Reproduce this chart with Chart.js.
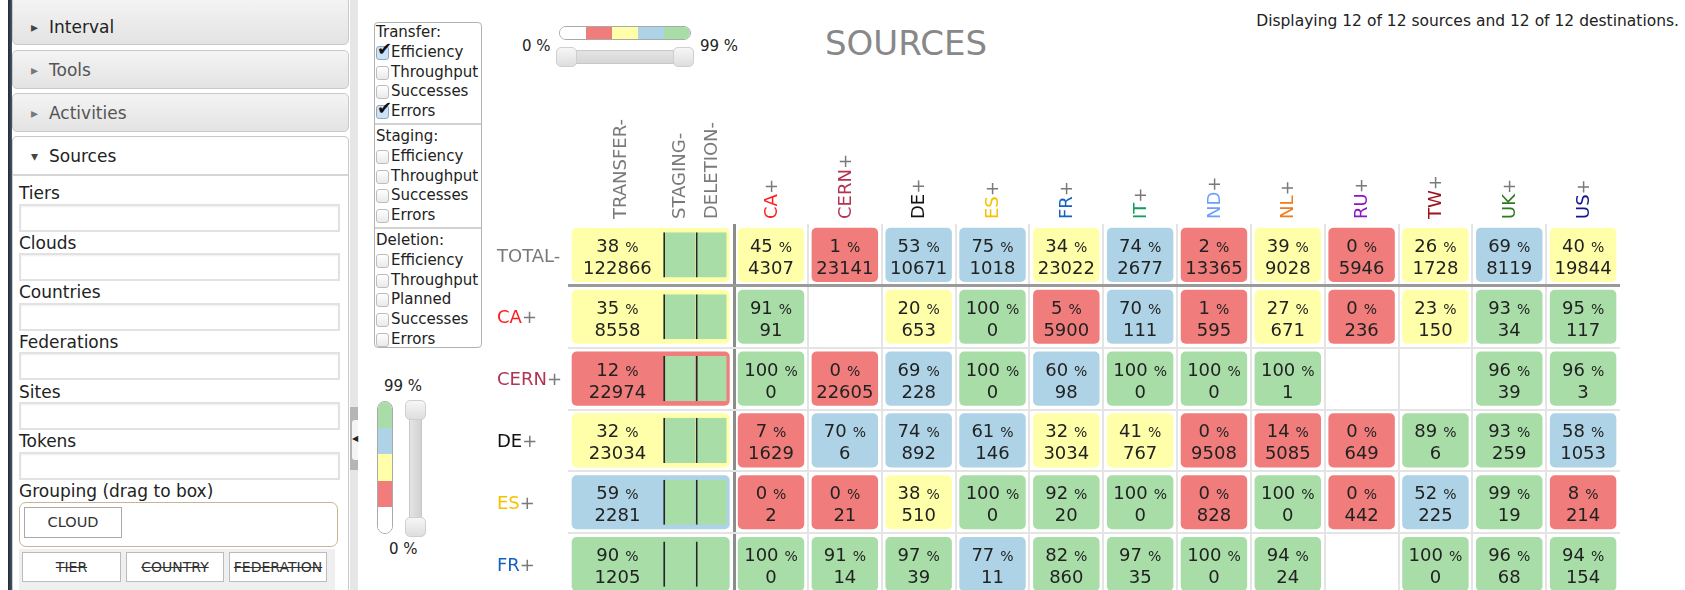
<!DOCTYPE html>
<html>
<head>
<meta charset="utf-8">
<title>Sources</title>
<script src="https://cdn.jsdelivr.net/npm/chart.js@4.4.1/dist/chart.umd.min.js"></script>
<style>
html, body { margin: 0; padding: 0; background: #fff; overflow: hidden; }
body { width: 1685px; height: 590px; position: relative; font-family: "DejaVu Sans", sans-serif; color: #222; }
div, span { box-sizing: border-box; }
.a { position: absolute; }
.edge { left: 8px; top: 0; width: 4px; height: 590px; background: linear-gradient(90deg, #1d2838, #4b5462); }
.head { position: absolute; left: 12px; width: 337px; border: 1px solid #c9c9c9; border-radius: 5px;
        background: linear-gradient(#f4f4f4, #e3e3e3); font-size: 17px; color: #555; }
.head .tri { position: absolute; left: 18px; font-size: 14px; line-height: 22px; color: #777; }
.head .t { position: absolute; left: 36px; line-height: 22px; white-space: nowrap; }
.panel { left: 12px; top: 136px; width: 337px; height: 480px; border: 1px solid #c9c9c9; border-radius: 5px 5px 0 0; background: #fff; }
.lab { position: absolute; left: 19px; font-size: 17px; line-height: 22px; color: #222; white-space: nowrap; }
.inp { position: absolute; left: 19px; width: 321px; height: 28px; border: 2px solid #e2e2e2; background: #fff; box-shadow: inset 0 1px 2px #eee; }
.btn { position: absolute; height: 30px; border: 1px solid #bbb; background: #fff; font-size: 14px; line-height: 28px; text-align: center; color: #333; white-space: nowrap; }
.strike { text-decoration: line-through; }
.cb { position: absolute; font-size: 15px; line-height: 20px; white-space: nowrap; color: #222; }
.box { position: absolute; left: 376px; width: 13px; height: 14px; border: 1px solid #bdbdbd; border-radius: 3px; background: linear-gradient(#fff, #e9e9e9); }
.box.on { background: #cfe2f5; border-color: #8aa9c9; }
.tick { position: absolute; left: 377px; font-size: 18px; line-height: 20px; color: #111; }
.sep { position: absolute; left: 375px; width: 106px; height: 2px; background: #d2d2d2; }
.seg { flex: 1; }
.pct { position: absolute; font-size: 15px; line-height: 20px; color: #222; white-space: nowrap; }
.handle { position: absolute; border: 1px solid #cfcfcf; border-radius: 5px; background: linear-gradient(#f6f6f6, #dedede); }
</style>
</head>
<body>
<div class="a edge"></div>

<div class="head" style="top:-3px;height:48px;color:#222"><span class="tri" style="top:18px;color:#444">&#9656;</span><span class="t" style="top:18px">Interval</span></div>
<div class="head" style="top:50px;height:39px"><span class="tri" style="top:8px">&#9656;</span><span class="t" style="top:8px">Tools</span></div>
<div class="head" style="top:93px;height:39px"><span class="tri" style="top:8px">&#9656;</span><span class="t" style="top:8px">Activities</span></div>

<div class="a panel"></div>
<div class="head" style="top:136px;height:40px;background:#fff;color:#222;border-radius:5px 5px 0 0"><span class="tri" style="top:8px;color:#444">&#9662;</span><span class="t" style="top:8px">Sources</span></div>
<div class="a" style="left:13px;top:174px;width:335px;height:2px;background:#d6d6d6"></div>

<div class="lab" style="top:182px">Tiers</div>
<div class="inp" style="top:204px"></div>
<div class="lab" style="top:232px">Clouds</div>
<div class="inp" style="top:253px"></div>
<div class="lab" style="top:281px">Countries</div>
<div class="inp" style="top:303px"></div>
<div class="lab" style="top:331px">Federations</div>
<div class="inp" style="top:352px"></div>
<div class="lab" style="top:381px">Sites</div>
<div class="inp" style="top:402px"></div>
<div class="lab" style="top:430px">Tokens</div>
<div class="inp" style="top:452px"></div>
<div class="lab" style="top:480px">Grouping (drag to box)</div>
<div class="a" style="left:19px;top:502px;width:319px;height:45px;border:1.5px solid #c7b693;border-radius:7px"></div>
<div class="btn" style="left:24px;top:507px;width:98px;height:31px;border-color:#aaa;font-size:14.5px">CLOUD</div>
<div class="a" style="left:19px;top:549px;width:316px;height:45px;background:#efefef"></div>
<div class="btn strike" style="left:22px;top:552px;width:99px">TIER</div>
<div class="btn strike" style="left:126px;top:552px;width:98px">COUNTRY</div>
<div class="btn strike" style="left:229px;top:552px;width:98px">FEDERATION</div>

<div class="a" style="left:350px;top:0;width:8px;height:590px;background:#e6e6e6"></div>
<div class="a" style="left:350px;top:407px;width:8px;height:63px;background:#b5b5b5"></div>
<div class="a" style="left:352px;top:420px;width:6px;height:40px;background:#f4f4f4;border-radius:3px 0 0 3px"></div>
<div class="a" style="left:352px;top:432px;font-size:8px;line-height:14px;color:#222">&#9664;</div>

<div class="a" style="left:374px;top:22px;width:108px;height:326px;border:1px solid #b3b3b3;border-radius:4px"></div>
<div id="checks"></div>

<div class="a" style="left:559px;top:26px;width:132px;height:14px;border:1px solid #aaa;border-radius:7px;overflow:hidden;display:flex">
  <div class="seg" style="background:#fff"></div><div class="seg" style="background:#f07c7c"></div><div class="seg" style="background:#ffffaa"></div><div class="seg" style="background:#aed3e6"></div><div class="seg" style="background:#a8dda8"></div>
</div>
<div class="a" style="left:562px;top:50px;width:128px;height:14px;border:1px solid #c8c8c8;border-radius:4px;background:linear-gradient(#e4e4e4,#d6d6d6)"></div>
<div class="handle" style="left:556px;top:47px;width:21px;height:20px"></div>
<div class="handle" style="left:673px;top:47px;width:21px;height:20px"></div>
<div class="pct" style="left:522px;top:36px">0 %</div>
<div class="pct" style="left:700px;top:36px">99 %</div>

<div class="a" style="left:377px;top:401px;width:16px;height:133px;border:1px solid #aaa;border-radius:8px;overflow:hidden;display:flex;flex-direction:column">
  <div class="seg" style="background:#a8dda8"></div><div class="seg" style="background:#aed3e6"></div><div class="seg" style="background:#ffffaa"></div><div class="seg" style="background:#f07c7c"></div><div class="seg" style="background:#fff"></div>
</div>
<div class="a" style="left:409px;top:405px;width:13px;height:128px;border:1px solid #c8c8c8;border-radius:4px;background:linear-gradient(90deg,#e4e4e4,#d2d2d2)"></div>
<div class="handle" style="left:405px;top:400px;width:21px;height:20px"></div>
<div class="handle" style="left:405px;top:517px;width:21px;height:20px"></div>
<div class="pct" style="left:384px;top:376px">99 %</div>
<div class="pct" style="left:389px;top:539px">0 %</div>

<div class="a" style="left:825px;top:23px;font-size:34px;line-height:40px;color:#888">SOURCES</div>
<div class="a" style="right:6px;top:11px;font-size:15.5px;line-height:20px;color:#222;white-space:nowrap">Displaying 12 of 12 sources and 12 of 12 destinations.</div>

<canvas id="matrix" width="1195" height="510" style="position:absolute;left:490px;top:90px"></canvas>

<script>
// destinations (columns) and sources (rows)
const destinations = ["CA", "CERN", "DE", "ES", "FR", "IT", "ND", "NL", "RU", "TW", "UK", "US"];
const sources = ["TOTAL", "CA", "CERN", "DE", "ES", "FR"];
const summaryLabels = ["TRANSFER-", "STAGING-", "DELETION-"];

// transfer efficiency (%) and errors per source, all destinations
const transferEfficiency = [38, 35, 12, 32, 59, 90];
const transferErrors = [122866, 8558, 22974, 23034, 2281, 1205];

// efficiency (%) per source row / destination column, null = no transfers
const efficiency = [
  [45, 1, 53, 75, 34, 74, 2, 39, 0, 26, 69, 40],
  [91, null, 20, 100, 5, 70, 1, 27, 0, 23, 93, 95],
  [100, 0, 69, 100, 60, 100, 100, 100, null, null, 96, 96],
  [7, 70, 74, 61, 32, 41, 0, 14, 0, 89, 93, 58],
  [0, 0, 38, 100, 92, 100, 0, 100, 0, 52, 99, 8],
  [100, 91, 97, 77, 82, 97, 100, 94, null, 100, 96, 94]
];
const errors = [
  [4307, 23141, 10671, 1018, 23022, 2677, 13365, 9028, 5946, 1728, 8119, 19844],
  [91, null, 653, 0, 5900, 111, 595, 671, 236, 150, 34, 117],
  [0, 22605, 228, 0, 98, 0, 0, 1, null, null, 39, 3],
  [1629, 6, 892, 146, 3034, 767, 9508, 5085, 649, 6, 259, 1053],
  [2, 21, 510, 0, 20, 0, 828, 0, 442, 225, 19, 214],
  [0, 14, 39, 11, 860, 35, 0, 24, null, 0, 68, 154]
];

// checkbox panel
const checkGroups = [
  ["Transfer:", ["Efficiency", "Throughput", "Successes", "Errors"], [true, false, false, true]],
  ["Staging:", ["Efficiency", "Throughput", "Successes", "Errors"], [false, false, false, false]],
  ["Deletion:", ["Efficiency", "Throughput", "Planned", "Successes", "Errors"], [false, false, false, false, false]]
];

const siteColors = {
  CA: "#ff1c1c", CERN: "#b13452", DE: "#111111", ES: "#f3c300", FR: "#1562c2", IT: "#0f9f5a",
  ND: "#6c9dff", NL: "#ef7b1f", RU: "#8c14c6", TW: "#a1121f", UK: "#2e7a21", US: "#15158c"
};
const GRAY = "#7a7a7a";
const FONT = '"DejaVu Sans", sans-serif';

(function buildChecks() {
  const host = document.getElementById("checks");
  let y = 32;
  checkGroups.forEach(([title, items, state], g) => {
    if (g > 0) {
      host.insertAdjacentHTML("beforeend", `<div class="sep" style="top:${Math.round(y - 8)}px"></div>`);
      y += 5;
    }
    host.insertAdjacentHTML("beforeend", `<div class="cb" style="left:376px;top:${Math.round(y - 10)}px">${title}</div>`);
    y += 19.8;
    items.forEach((name, k) => {
      host.insertAdjacentHTML("beforeend",
        `<div class="box${state[k] ? " on" : ""}" style="top:${Math.round(y - 6)}px"></div>` +
        (state[k] ? `<div class="tick" style="top:${Math.round(y - 13)}px">&#10004;</div>` : "") +
        `<div class="cb" style="left:391px;top:${Math.round(y - 10)}px">${name}</div>`);
      y += 19.8;
    });
  });
})();

function efficiencyColor(p) {
  if (p < 20) return "#f07c7c";
  if (p < 50) return "#ffffaa";
  if (p < 80) return "#aed3e6";
  return "#a8dda8";
}

// layout in column units on the x scale (one destination column = 1)
const CELL_GAP = 0.05;
const SUMMARY_SPAN = [-2.2, -0.06];
const STAGING_SPAN = [-0.96, -0.52];
const DELETION_SPAN = [-0.52, -0.1];

const datasets = destinations.map((d, j) => ({
  label: d,
  data: efficiency.map(row => row[j] === null ? null : [j + CELL_GAP, j + 1 - CELL_GAP]),
  backgroundColor: efficiency.map(row => row[j] === null ? "rgba(0,0,0,0)" : efficiencyColor(row[j])),
  barPercentage: 0.875,
  borderRadius: 5,
  order: 0
}));
datasets.push({
  label: "TRANSFER-",
  data: sources.map(() => SUMMARY_SPAN.slice()),
  backgroundColor: transferEfficiency.map(efficiencyColor),
  barPercentage: 0.875,
  borderRadius: 5,
  order: 2
});
[STAGING_SPAN, DELETION_SPAN].forEach((span, k) => {
  datasets.push({
    label: summaryLabels[k + 1],
    data: sources.map(() => span.slice()),
    backgroundColor: "#a8dda8",
    borderColor: "#262626",
    borderWidth: { left: 2, right: 0, top: 0, bottom: 0 },
    barPercentage: 0.73,
    borderRadius: 0,
    order: 1
  });
});
datasets.forEach(ds => { ds.grouped = false; ds.categoryPercentage = 1; ds.borderSkipped = false; });

function drawParts(ctx, parts, x, y) {
  let pos = x;
  parts.forEach(([text, color]) => {
    ctx.fillStyle = color;
    ctx.fillText(text, pos, y);
    pos += ctx.measureText(text).width;
  });
}

function drawCellText(ctx, cx, cy, pct, count) {
  const big = "18px " + FONT, small = "14px " + FONT;
  const num = String(pct);
  ctx.font = big;
  const wNum = ctx.measureText(num).width;
  ctx.font = small;
  const wPct = ctx.measureText("%").width;
  const gap = 6;
  const x0 = cx - (wNum + gap + wPct) / 2;
  ctx.fillStyle = "#222";
  ctx.textBaseline = "alphabetic";
  ctx.textAlign = "left";
  ctx.font = big;
  ctx.fillText(num, x0, cy - 3);
  ctx.font = small;
  ctx.fillText("%", x0 + wNum + gap, cy - 3);
  ctx.font = big;
  ctx.textAlign = "center";
  ctx.fillText(String(count), cx, cy + 19);
}

const leftOf = el => Math.min(el.x, el.base);
const rightOf = el => Math.max(el.x, el.base);

const matrixLabels = {
  id: "matrixLabels",
  afterDatasetsDraw(chart) {
    const { ctx, chartArea, scales: { x, y } } = chart;
    ctx.save();
    ctx.font = "18px " + FONT;

    // column headers, rotated
    const headerBottom = chartArea.top - 5;
    const headers = [
      [(x.getPixelForValue(SUMMARY_SPAN[0]) + x.getPixelForValue(STAGING_SPAN[0])) / 2 + 3, [[summaryLabels[0], GRAY]]],
      [(x.getPixelForValue(STAGING_SPAN[0]) + x.getPixelForValue(STAGING_SPAN[1])) / 2, [[summaryLabels[1], GRAY]]],
      [(x.getPixelForValue(DELETION_SPAN[0]) + x.getPixelForValue(DELETION_SPAN[1])) / 2, [[summaryLabels[2], GRAY]]]
    ];
    destinations.forEach((d, j) => headers.push([x.getPixelForValue(j + 0.5), [[d, siteColors[d]], ["+", GRAY]]]));
    headers.forEach(([px, parts]) => {
      ctx.save();
      ctx.translate(px, headerBottom);
      ctx.rotate(-Math.PI / 2);
      ctx.textAlign = "left";
      ctx.textBaseline = "middle";
      drawParts(ctx, parts, 0, 1);
      ctx.restore();
    });

    // row labels
    ctx.textAlign = "left";
    ctx.textBaseline = "middle";
    sources.forEach((s, i) => {
      const py = y.getPixelForValue(i) + 2;
      const parts = i === 0 ? [["TOTAL-", GRAY]] : [[s, siteColors[s]], ["+", GRAY]];
      drawParts(ctx, parts, chartArea.left - 71, py);
    });

    // summary cells: text sits left of the staging/deletion block
    const sumMeta = chart.getDatasetMeta(destinations.length);
    const stageMeta = chart.getDatasetMeta(destinations.length + 1);
    sumMeta.data.forEach((el, i) => {
      const cx = (leftOf(el) + leftOf(stageMeta.data[i])) / 2;
      drawCellText(ctx, cx, el.y, transferEfficiency[i], transferErrors[i]);
    });

    // destination cells
    destinations.forEach((d, j) => {
      const meta = chart.getDatasetMeta(j);
      sources.forEach((s, i) => {
        if (efficiency[i][j] === null) return;
        const el = meta.data[i];
        drawCellText(ctx, (leftOf(el) + rightOf(el)) / 2, el.y, efficiency[i][j], errors[i][j]);
      });
    });
    ctx.restore();
  }
};

Chart.defaults.font.family = FONT;

new Chart(document.getElementById("matrix").getContext("2d"), {
  type: "bar",
  data: { labels: sources, datasets: datasets },
  options: {
    indexAxis: "y",
    responsive: false,
    animation: false,
    layout: { padding: { left: 78, right: 65, top: 134, bottom: 5 } },
    plugins: { legend: { display: false }, tooltip: { enabled: false } },
    scales: {
      x: {
        type: "linear",
        min: -2.25,
        max: 12,
        afterBuildTicks: axis => {
          axis.ticks = destinations.map((d, j) => ({ value: j })).concat([{ value: destinations.length }]);
        },
        ticks: { display: false },
        border: { display: false },
        grid: {
          drawTicks: false,
          color: c => !c.tick ? "#e4e4e4" : c.tick.value === 0 ? "#8c8c8c" : c.tick.value === destinations.length ? "rgba(0,0,0,0)" : "#e4e4e4",
          lineWidth: c => c.tick && c.tick.value === 0 ? 3 : 2
        }
      },
      y: {
        type: "category",
        ticks: { display: false },
        border: { display: false },
        grid: {
          drawTicks: false,
          color: c => c.index === 0 ? "rgba(0,0,0,0)" : c.index === 1 ? "#9a9a9a" : "#e4e4e4",
          lineWidth: c => c.index === 1 ? 3 : 2
        }
      }
    }
  },
  plugins: [matrixLabels]
});
</script>
</body>
</html>
